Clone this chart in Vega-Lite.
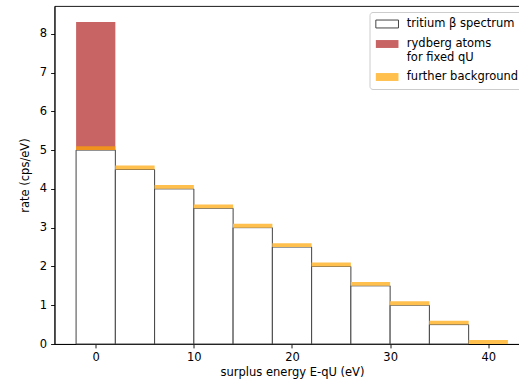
{
  "$schema": "https://vega.github.io/schema/vega-lite/v6.json",
  "width": 475,
  "height": 338,
  "autosize": {"type": "none"},
  "padding": {"left": 54.5, "top": 6, "right": 0, "bottom": 36},
  "background": "white",
  "config": {
    "view": {"stroke": "#000", "strokeWidth": 0.9},
    "axis": {
      "grid": false,
      "domainColor": "#000",
      "domainWidth": 0.9,
      "tickColor": "#000",
      "tickWidth": 0.9,
      "tickSize": 3.9,
      "labelFont": "DejaVu Sans",
      "labelFontSize": 11.5,
      "labelColor": "#000",
      "labelPadding": 3.9,
      "titleFont": "DejaVu Sans",
      "titleFontSize": 11.5,
      "titleFontWeight": "normal",
      "titleColor": "#000"
    },
    "legend": {
      "labelFont": "DejaVu Sans",
      "labelFontSize": 11.5,
      "labelColor": "#000"
    }
  },
  "datasets": {
    "bins": [
      {"lo": -2, "hi": 2, "t": 5.0, "bg": 5.1},
      {"lo": 2, "hi": 6, "t": 4.5, "bg": 4.6},
      {"lo": 6, "hi": 10, "t": 4.0, "bg": 4.1},
      {"lo": 10, "hi": 14, "t": 3.5, "bg": 3.6},
      {"lo": 14, "hi": 18, "t": 3.0, "bg": 3.1},
      {"lo": 18, "hi": 22, "t": 2.5, "bg": 2.6},
      {"lo": 22, "hi": 26, "t": 2.0, "bg": 2.1},
      {"lo": 26, "hi": 30, "t": 1.5, "bg": 1.6},
      {"lo": 30, "hi": 34, "t": 1.0, "bg": 1.1},
      {"lo": 34, "hi": 38, "t": 0.5, "bg": 0.6},
      {"lo": 38, "hi": 42, "t": 0.0, "bg": 0.1}
    ],
    "ryd": [
      {"lo": -2, "hi": 2, "base": 5.0, "top": 8.3}
    ]
  },
  "layer": [
    {
      "data": {"name": "bins"},
      "transform": [{"filter": "datum.t > 0"}],
      "mark": {"type": "rect", "strokeWidth": 1},
      "encoding": {
        "x": {
          "field": "lo", "type": "quantitative",
          "scale": {"domain": [-4.2, 44.2], "nice": false, "zero": false},
          "axis": {"values": [0, 10, 20, 30, 40], "title": "surplus energy E-qU (eV)", "titlePadding": 3}
        },
        "x2": {"field": "hi"},
        "y": {
          "field": "t", "type": "quantitative",
          "scale": {"domain": [0, 8.715], "nice": false},
          "axis": {"values": [0, 1, 2, 3, 4, 5, 6, 7, 8], "title": "rate (cps/eV)", "titlePadding": 9}
        },
        "y2": {"datum": 0},
        "fill": {
          "datum": "tritium β spectrum", "type": "nominal",
          "scale": {
            "domain": ["tritium β spectrum", "rydberg atoms for fixed qU", "further background"],
            "range": ["#ffffff", "#c96464", "#ffc04d"]
          },
          "legend": {
            "title": null,
            "orient": "none",
            "legendX": 315,
            "legendY": 6,
            "padding": 5.5,
            "rowPadding": 7,
            "strokeColor": "#cccccc",
            "fillColor": "rgba(255,255,255,0.8)",
            "cornerRadius": 3,
            "symbolType": "M-1,-0.7L3,-0.7L3,0.7L-1,0.7Z",
            "symbolSize": 128,
            "symbolStrokeWidth": 1,
            "labelOffset": 18.8,
            "labelLimit": 300,
            "labelExpr": "datum.value == 'rydberg atoms for fixed qU' ? ['rydberg atoms', 'for fixed qU'] : datum.label",
            "encode": {
              "symbols": {
                "y": {"condition": {"test": "datum.value == 'rydberg atoms for fixed qU'", "value": 12.2}, "value": 5.66}
              }
            }
          }
        },
        "stroke": {
          "datum": "tritium β spectrum", "type": "nominal",
          "scale": {
            "domain": ["tritium β spectrum", "rydberg atoms for fixed qU", "further background"],
            "range": ["#444444", "transparent", "transparent"]
          },
          "legend": {
            "title": null,
            "orient": "none",
            "legendX": 315,
            "legendY": 6,
            "padding": 5.5,
            "rowPadding": 7,
            "strokeColor": "#cccccc",
            "fillColor": "rgba(255,255,255,0.8)",
            "cornerRadius": 3,
            "symbolType": "M-1,-0.7L3,-0.7L3,0.7L-1,0.7Z",
            "symbolSize": 128,
            "symbolStrokeWidth": 1,
            "labelOffset": 18.8,
            "labelLimit": 300,
            "labelExpr": "datum.value == 'rydberg atoms for fixed qU' ? ['rydberg atoms', 'for fixed qU'] : datum.label",
            "encode": {
              "symbols": {
                "y": {"condition": {"test": "datum.value == 'rydberg atoms for fixed qU'", "value": 12.2}, "value": 5.66}
              }
            }
          }
        }
      }
    },
    {
      "data": {"name": "ryd"},
      "mark": {"type": "rect", "strokeWidth": 0},
      "encoding": {
        "x": {"field": "lo", "type": "quantitative"},
        "x2": {"field": "hi"},
        "y": {"field": "base", "type": "quantitative"},
        "y2": {"field": "top"},
        "fill": {"datum": "rydberg atoms for fixed qU", "type": "nominal"},
        "stroke": {"datum": "rydberg atoms for fixed qU", "type": "nominal"}
      }
    },
    {
      "data": {"name": "bins"},
      "transform": [{"filter": "datum.lo != -2"}],
      "mark": {"type": "rect", "strokeWidth": 0},
      "encoding": {
        "x": {"field": "lo", "type": "quantitative"},
        "x2": {"field": "hi"},
        "y": {"field": "t", "type": "quantitative"},
        "y2": {"field": "bg"},
        "fill": {"datum": "further background", "type": "nominal"},
        "stroke": {"datum": "further background", "type": "nominal"}
      }
    },
    {
      "data": {"name": "bins"},
      "transform": [{"filter": "datum.lo == -2"}],
      "mark": {"type": "rect", "fill": "orange", "fillOpacity": 0.7, "strokeWidth": 0},
      "encoding": {
        "x": {"field": "lo", "type": "quantitative"},
        "x2": {"field": "hi"},
        "y": {"field": "t", "type": "quantitative"},
        "y2": {"field": "bg"}
      }
    }
  ]
}
